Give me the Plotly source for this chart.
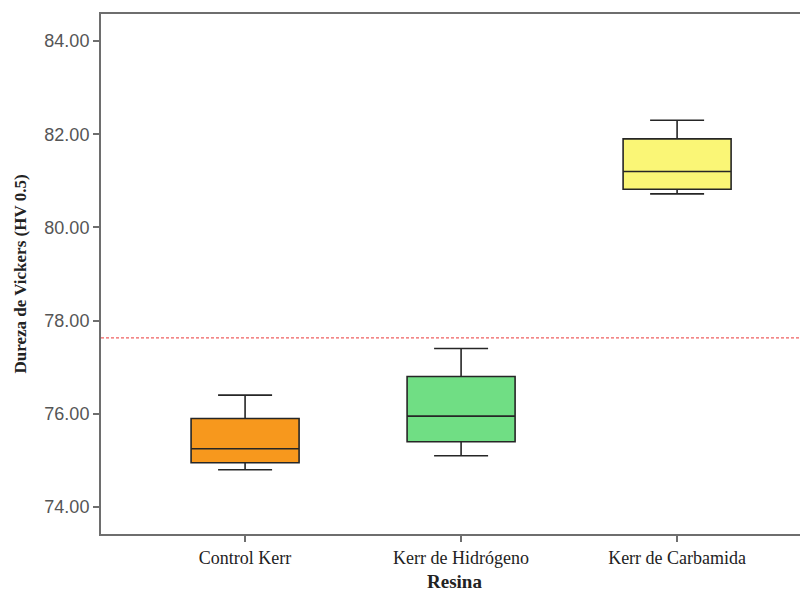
import plotly.graph_objects as go

categories = ["Control Kerr", "Kerr de Hidrógeno", "Kerr de Carbamida"]
lower_whisker = [74.8, 75.1, 80.72]
q1_values = [74.95, 75.4, 80.82]
medians = [75.25, 75.95, 81.2]
q3_values = [75.9, 76.8, 81.9]
upper_whisker = [76.4, 77.4, 82.3]
colors = ["#F7981D", "#70DE84", "#FAF676"]
ref_line_value = 77.63
y_ticks = [74, 76, 78, 80, 82, 84]

fig = go.Figure()
for i, cat in enumerate(categories):
    fig.add_trace(go.Box(
        x=[cat],
        q1=[q1_values[i]], median=[medians[i]], q3=[q3_values[i]],
        lowerfence=[lower_whisker[i]], upperfence=[upper_whisker[i]],
        fillcolor=colors[i],
        line=dict(color="#262626", width=1.6),
        width=0.5,
        whiskerwidth=0.5,
        boxpoints=False,
        showlegend=False,
        hoverinfo="skip",
    ))

fig.add_shape(type="line", xref="paper", yref="y", x0=0, x1=1,
              y0=ref_line_value, y1=ref_line_value,
              line=dict(color="#F06060", width=1.2, dash="3px,2px"))

fig.update_layout(
    width=800, height=584,
    margin=dict(l=93, r=0, t=6, b=58),
    plot_bgcolor="white", paper_bgcolor="white",
    xaxis=dict(
        type="category", range=[-0.667, 2.606],
        showgrid=False, zeroline=False, automargin=False,
        showline=True, linecolor="#6e6e6e", linewidth=2, mirror=True,
        ticks="outside", ticklen=6, tickcolor="#6e6e6e", tickwidth=2,
        tickfont=dict(family="Liberation Serif", size=18, color="#222"),
        title=dict(text="<b>Resina</b>", font=dict(family="Liberation Serif", size=19, color="#222"), standoff=11),
    ),
    yaxis=dict(
        range=[73.42, 84.58],
        tickvals=y_ticks, tickformat=".2f",
        showgrid=False, zeroline=False, automargin=False,
        showline=True, linecolor="#6e6e6e", linewidth=2,
        ticks="outside", ticklen=6, tickcolor="#6e6e6e", tickwidth=2,
        tickfont=dict(family="Liberation Sans", size=18, color="#555"),
        title=dict(text="<b>Dureza de Vickers (HV 0.5)</b>", font=dict(family="Liberation Serif", size=17, color="#222"), standoff=13),
    ),
)

fig.write_html("out.html")
